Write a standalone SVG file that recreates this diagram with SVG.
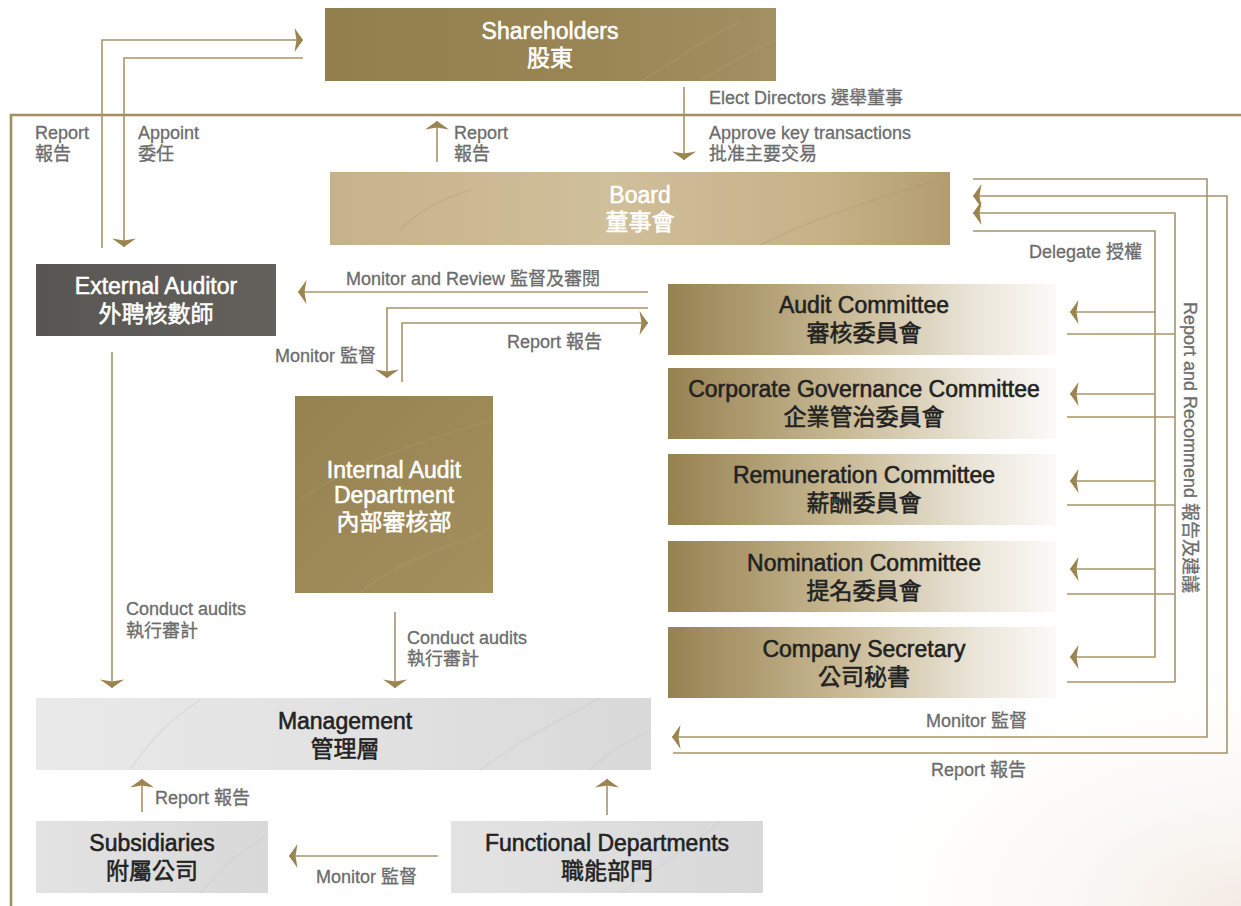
<svg xmlns="http://www.w3.org/2000/svg" width="1241" height="906" viewBox="0 0 1241 906">
<style>
text{font-family:'Liberation Sans','Noto Sans CJK TC',sans-serif}
.t{font-size:23px;text-anchor:middle;stroke-width:0.55}
.w{fill:#ffffff;stroke:#ffffff}
.d{fill:#222222;stroke:#222222}
.lb{font-size:18px;fill:#6c6c6c;stroke:#6c6c6c;stroke-width:0.3}
.c{fill:none;stroke:#a8946a;stroke-width:1.6}
.fr{fill:none;stroke:#a38e5c;stroke-width:2.6}
.tx{fill:none;stroke-width:1.2;opacity:0.35}
</style>
<defs>
<marker id="ah" viewBox="-9 -13 10 26" markerWidth="10" markerHeight="26" refX="0" refY="0" orient="auto" markerUnits="userSpaceOnUse">
<path d="M0,0 L-8.5,-12 L-6.5,0 L-8.5,12 z" fill="#9a8450"/>
</marker>
<linearGradient id="gSh" x1="0" y1="0" x2="1" y2="0"><stop offset="0" stop-color="#937e4d"/><stop offset="0.6" stop-color="#9a8554"/><stop offset="1" stop-color="#a38f62"/></linearGradient>
<linearGradient id="gBd" x1="0" y1="0" x2="1" y2="0"><stop offset="0" stop-color="#c6b28a"/><stop offset="0.45" stop-color="#d0bf9b"/><stop offset="0.8" stop-color="#c6b188"/><stop offset="1" stop-color="#b39d70"/></linearGradient>
<linearGradient id="gEx" x1="0" y1="0" x2="1" y2="0"><stop offset="0" stop-color="#585653"/><stop offset="1" stop-color="#64615c"/></linearGradient>
<linearGradient id="gIa" x1="0" y1="0" x2="1" y2="1"><stop offset="0" stop-color="#968150"/><stop offset="1" stop-color="#a48f5f"/></linearGradient>
<linearGradient id="gCm" x1="0" y1="0" x2="1" y2="0"><stop offset="0" stop-color="#968150"/><stop offset="0.45" stop-color="#c8b994"/><stop offset="0.8" stop-color="#ebe6da"/><stop offset="1" stop-color="#fbfaf8"/></linearGradient>
<linearGradient id="gMg" x1="0" y1="0" x2="1" y2="0"><stop offset="0" stop-color="#e9e9e9"/><stop offset="0.5" stop-color="#e2e2e2"/><stop offset="1" stop-color="#d9d9d9"/></linearGradient>
<linearGradient id="gSb" x1="0" y1="0" x2="1" y2="0"><stop offset="0" stop-color="#e3e3e3"/><stop offset="1" stop-color="#d8d8d8"/></linearGradient>
<radialGradient id="gBg" cx="1" cy="1" r="0.6"><stop offset="0" stop-color="#f3ece4"/><stop offset="1" stop-color="#ffffff" stop-opacity="0"/></radialGradient>
</defs>
<rect x="0" y="0" width="1241" height="906" fill="#ffffff"/>
<rect x="500" y="450" width="741" height="456" fill="url(#gBg)"/>
<path class="fr" d="M11,906 V115 H1241"/>

<g id="shareholders">
<rect x="325" y="8" width="451" height="73" fill="url(#gSh)"/>
<path class="tx" stroke="#b8a67c" d="M640,81 C680,60 700,40 740,22 M700,81 C730,64 750,50 776,40"/>
<text class="t w" x="550" y="39">Shareholders</text>
<text class="t w" x="550" y="66">股東</text>
</g>
<g id="board">
<rect x="330" y="172" width="620" height="73" fill="url(#gBd)"/>
<path class="tx" stroke="#a8926a" d="M400,230 C420,210 440,200 470,190 M760,245 C800,225 850,205 940,180"/>
<text class="t w" x="640" y="203">Board</text>
<text class="t w" x="640" y="230">董事會</text>
</g>
<g id="external-auditor">
<rect x="36" y="264" width="240" height="72" fill="url(#gEx)"/>
<text class="t w" x="156" y="294">External Auditor</text>
<text class="t w" x="156" y="322">外聘核數師</text>
</g>
<g id="internal-audit">
<rect x="295" y="396" width="198" height="197" fill="url(#gIa)"/>
<path class="tx" stroke="#b5a275" d="M300,500 C340,470 420,440 493,420 M360,593 C400,560 450,545 493,530"/>
<text class="t w" x="394" y="478">Internal Audit</text>
<text class="t w" x="394" y="503">Department</text>
<text class="t w" x="394" y="530">內部審核部</text>
</g>
<g id="audit-committee">
<rect x="668" y="284" width="388" height="71" fill="url(#gCm)"/>
<text class="t d" x="864" y="313">Audit Committee</text>
<text class="t d" x="864" y="341">審核委員會</text>
</g>
<g id="cg-committee">
<rect x="668" y="368" width="388" height="71" fill="url(#gCm)"/>
<text class="t d" x="864" y="397">Corporate Governance Committee</text>
<text class="t d" x="864" y="425">企業管治委員會</text>
</g>
<g id="remuneration-committee">
<rect x="668" y="454" width="388" height="71" fill="url(#gCm)"/>
<text class="t d" x="864" y="483">Remuneration Committee</text>
<text class="t d" x="864" y="511">薪酬委員會</text>
</g>
<g id="nomination-committee">
<rect x="668" y="541" width="388" height="71" fill="url(#gCm)"/>
<text class="t d" x="864" y="571">Nomination Committee</text>
<text class="t d" x="864" y="599">提名委員會</text>
</g>
<g id="company-secretary">
<rect x="668" y="627" width="388" height="71" fill="url(#gCm)"/>
<text class="t d" x="864" y="657">Company Secretary</text>
<text class="t d" x="864" y="685">公司秘書</text>
</g>
<g id="management">
<rect x="36" y="698" width="615" height="72" fill="url(#gMg)"/>
<path class="tx" stroke="#c4c4c4" d="M130,770 C150,740 170,720 200,700 M480,770 C520,740 560,720 600,698 M590,770 C610,750 630,740 651,730"/>
<text class="t d" x="345" y="729">Management</text>
<text class="t d" x="345" y="757">管理層</text>
</g>
<g id="subsidiaries">
<rect x="36" y="821" width="232" height="72" fill="url(#gSb)"/>
<path class="tx" stroke="#c6c6c6" d="M200,893 C220,870 240,850 268,835"/>
<text class="t d" x="152" y="851">Subsidiaries</text>
<text class="t d" x="152" y="879">附屬公司</text>
</g>
<g id="functional-departments">
<rect x="451" y="821" width="312" height="72" fill="url(#gSb)"/>
<path class="tx" stroke="#c6c6c6" d="M620,893 C650,870 690,850 720,821"/>
<text class="t d" x="607" y="851">Functional Departments</text>
<text class="t d" x="607" y="879">職能部門</text>
</g>

<g id="connectors">
<path class="c" d="M102,248 V40 H303" marker-end="url(#ah)"/>
<path class="c" d="M303,58 H124 V247" marker-end="url(#ah)"/>
<path class="c" d="M437,162 V121" marker-end="url(#ah)"/>
<path class="c" d="M684,87 V160" marker-end="url(#ah)"/>
<path class="c" d="M973,179 H1207 V737 H672" marker-end="url(#ah)"/>
<path class="c" d="M673,753 H1227 V196 H973" marker-end="url(#ah)"/>
<path class="c" d="M1067,682 H1175 V213 H973" marker-end="url(#ah)"/>
<path class="c" d="M1067,334 H1175 M1067,417 H1175 M1067,505 H1175 M1067,594 H1175"/>
<path class="c" d="M973,231 H1155 V657 H1070" marker-end="url(#ah)"/>
<path class="c" d="M1155,312 H1070" marker-end="url(#ah)"/>
<path class="c" d="M1155,394 H1070" marker-end="url(#ah)"/>
<path class="c" d="M1155,481 H1070" marker-end="url(#ah)"/>
<path class="c" d="M1155,569 H1070" marker-end="url(#ah)"/>
<path class="c" d="M648,292 H298" marker-end="url(#ah)"/>
<path class="c" d="M648,308 H387 V378" marker-end="url(#ah)"/>
<path class="c" d="M402,382 V323 H648" marker-end="url(#ah)"/>
<path class="c" d="M112,352 V688" marker-end="url(#ah)"/>
<path class="c" d="M395,612 V688" marker-end="url(#ah)"/>
<path class="c" d="M142,812 V779" marker-end="url(#ah)"/>
<path class="c" d="M607,815 V779" marker-end="url(#ah)"/>
<path class="c" d="M438,856 H289" marker-end="url(#ah)"/>
</g>

<g id="labels">
<text class="lb" x="35" y="139">Report</text>
<text class="lb" x="35" y="160">報告</text>
<text class="lb" x="138" y="139">Appoint</text>
<text class="lb" x="138" y="160">委任</text>
<text class="lb" x="454" y="139">Report</text>
<text class="lb" x="454" y="160">報告</text>
<text class="lb" x="709" y="104">Elect Directors 選舉董事</text>
<text class="lb" x="709" y="139">Approve key transactions</text>
<text class="lb" x="709" y="160">批准主要交易</text>
<text class="lb" x="1142" y="258" text-anchor="end">Delegate 授權</text>
<text class="lb" transform="translate(1184,302) rotate(90)">Report and Recommend 報告及建議</text>
<text class="lb" x="346" y="285">Monitor and Review 監督及審閱</text>
<text class="lb" x="507" y="348">Report 報告</text>
<text class="lb" x="275" y="362">Monitor 監督</text>
<text class="lb" x="126" y="615">Conduct audits</text>
<text class="lb" x="126" y="637">執行審計</text>
<text class="lb" x="407" y="644">Conduct audits</text>
<text class="lb" x="407" y="665">執行審計</text>
<text class="lb" x="926" y="727">Monitor 監督</text>
<text class="lb" x="931" y="776">Report 報告</text>
<text class="lb" x="155" y="804">Report 報告</text>
<text class="lb" x="316" y="883">Monitor 監督</text>
</g>
</svg>
